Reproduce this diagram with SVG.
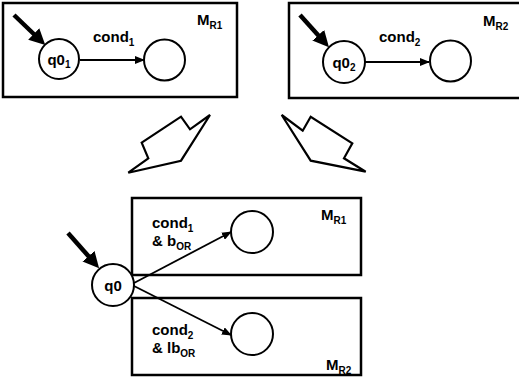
<svg xmlns="http://www.w3.org/2000/svg" width="519" height="382" viewBox="0 0 519 382">
  <style>
    .box { fill: #fff; stroke: #000; stroke-width: 2.5; }
    .state { fill: #fff; stroke: #000; stroke-width: 2; }
    .lbl { font-family: "Liberation Sans", Arial, sans-serif; font-weight: bold; font-size: 15px; fill: #000; }
    .sub { font-size: 10px; }
    .trans { fill: none; stroke: #000; stroke-width: 1.8; marker-end: url(#head); }
    .init { fill: none; stroke: #000; stroke-width: 4.5; marker-end: url(#bighead); }
    .morph { fill: #fff; stroke: #000; stroke-width: 2.2; stroke-linejoin: miter; }
  </style>
  <defs>
    <marker id="head" viewBox="0 0 10 8" refX="9" refY="4" markerWidth="10" markerHeight="8" markerUnits="userSpaceOnUse" orient="auto">
      <path d="M0,0 L10,4 L0,8 z" fill="#000"/>
    </marker>
    <marker id="bighead" viewBox="0 0 16 16" refX="8" refY="8" markerWidth="16" markerHeight="16" markerUnits="userSpaceOnUse" orient="auto">
      <path d="M0,0 L16,8 L0,16 z" fill="#000"/>
    </marker>
  </defs>

  <rect width="519" height="382" fill="#fff"/>

  <!-- machine M_R1 -->
  <g id="machine-r1">
    <rect class="box" x="3" y="3" width="234" height="94"/>
    <text class="lbl" x="197" y="25">M<tspan class="sub" dy="4">R1</tspan></text>
    <text class="lbl" x="93" y="42">cond<tspan class="sub" dy="4">1</tspan></text>
  </g>

  <!-- machine M_R2 -->
  <g id="machine-r2">
    <rect class="box" x="289" y="3" width="235" height="95"/>
    <text class="lbl" x="483" y="26">M<tspan class="sub" dy="4">R2</tspan></text>
    <text class="lbl" x="379" y="42">cond<tspan class="sub" dy="4">2</tspan></text>
  </g>

  <!-- combined machine, R1 part -->
  <g id="combined-r1">
    <rect class="box" x="132" y="198" width="229" height="77"/>
    <text class="lbl" x="321" y="220">M<tspan class="sub" dy="4">R1</tspan></text>
    <text class="lbl" x="152" y="228">cond<tspan class="sub" dy="4">1</tspan></text>
    <text class="lbl" x="152" y="246">&amp; b<tspan class="sub" dy="4">OR</tspan></text>
  </g>

  <!-- combined machine, R2 part -->
  <g id="combined-r2">
    <rect class="box" x="132" y="298" width="229" height="77"/>
    <text class="lbl" x="326" y="370">M<tspan class="sub" dy="4">R2</tspan></text>
    <text class="lbl" x="152" y="335">cond<tspan class="sub" dy="4">2</tspan></text>
    <text class="lbl" x="152" y="353">&amp; lb<tspan class="sub" dy="4">OR</tspan></text>
  </g>

  <!-- transformation arrows -->
  <g id="merge-arrows">
    <polygon class="morph" points="210,115 190,129.3 181,116.7 141.7,142.7 148.3,158.3 128.3,172.7 181,160.7"/>
    <polygon class="morph" points="281.7,115 302.7,130.7 310.7,116.7 352.3,143.3 344,158.3 365.7,171.7 310.7,160.7"/>
  </g>

  <!-- connectors -->
  <g id="connectors">
    <line class="init" x1="14" y1="15" x2="39.5" y2="39.5"/>
    <line class="init" x1="300" y1="15" x2="323.6" y2="41.2"/>
    <line class="init" x1="68" y1="233" x2="93.8" y2="262.2"/>
    <line class="trans" x1="80" y1="60" x2="144" y2="60"/>
    <line class="trans" x1="365" y1="62" x2="429" y2="62"/>
    <line class="trans" x1="134" y1="283" x2="231" y2="232"/>
    <line class="trans" x1="134" y1="286" x2="231" y2="335"/>
  </g>

  <!-- states -->
  <g id="q0-1">
    <circle class="state" cx="59" cy="59" r="20"/>
    <text class="lbl" x="59" y="65" text-anchor="middle">q0<tspan class="sub" dy="3">1</tspan></text>
  </g>
  <g id="s-r1">
    <circle class="state" cx="164.5" cy="60" r="20.5"/>
  </g>
  <g id="q0-2">
    <circle class="state" cx="344" cy="62" r="21"/>
    <text class="lbl" x="344" y="68" text-anchor="middle">q0<tspan class="sub" dy="3">2</tspan></text>
  </g>
  <g id="s-r2">
    <circle class="state" cx="450.5" cy="61" r="20.5"/>
  </g>
  <g id="q0">
    <circle class="state" cx="113" cy="285" r="21"/>
    <text class="lbl" x="113" y="291" text-anchor="middle">q0</text>
  </g>
  <g id="s-comb-r1">
    <circle class="state" cx="252" cy="232" r="21"/>
  </g>
  <g id="s-comb-r2">
    <circle class="state" cx="252" cy="334" r="21"/>
  </g>
</svg>
